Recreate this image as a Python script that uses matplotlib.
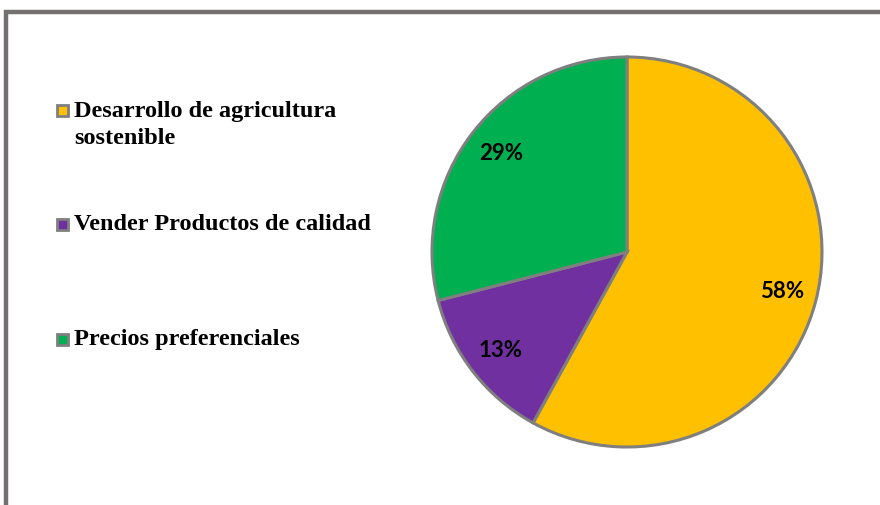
import matplotlib.pyplot as plt
from matplotlib.patches import Rectangle

# chart data
categories = ['Desarrollo de agricultura\nsostenible', 'Vender Productos de calidad', 'Precios preferenciales']
values = [58, 13, 29]
colors = ['#FFC000', '#7030A0', '#00B050']

W, H = 880, 505
fig = plt.figure(figsize=(W / 100, H / 100), dpi=100)

# outer chart frame (cropped at right and bottom)
fig.patches.append(Rectangle((5.5 / W, -0.1), 1.2, (H - 12) / H + 0.1,
                             transform=fig.transFigure, fill=False,
                             edgecolor='#767171', linewidth=3.2))

# pie area: center ~ (627, 252), radius ~195 px
cx, cy, r = 627, 252, 195
ax = fig.add_axes([(cx - r) / W, (H - cy - r) / H, 2 * r / W, 2 * r / H])
wedges, texts, autotexts = ax.pie(
    values, colors=colors, startangle=90, counterclock=False,
    autopct='%d%%', pctdistance=0.82,
    wedgeprops=dict(edgecolor='#7F7F7F', linewidth=2.2))
for t in autotexts:
    t.set_fontfamily('Lato')
    t.set_fontweight('bold')
    t.set_fontsize(16)
    t.set_color('black')
ax.set_xlim(-1, 1)
ax.set_ylim(-1, 1)
ax.set_aspect('equal')
for w in wedges:
    w.set_clip_on(False)

# legend, drawn by hand to match the spacing of the original
legend_y = [110, 224, 339]
for lab, col, y in zip(categories, colors, legend_y):
    fig.patches.append(Rectangle((57 / W, (H - y - 6) / H), 11 / W, 11 / H,
                                 transform=fig.transFigure, facecolor=col,
                                 edgecolor='#7F7F7F', linewidth=2))
    nlines = lab.count('\n')
    fig.text(74 / W, (H - y - 15 * nlines) / H, lab, fontfamily='Liberation Serif',
             fontweight='bold', fontsize=17.5, va='center', ha='left',
             linespacing=1.35)

fig.savefig('out.png', dpi=100)
